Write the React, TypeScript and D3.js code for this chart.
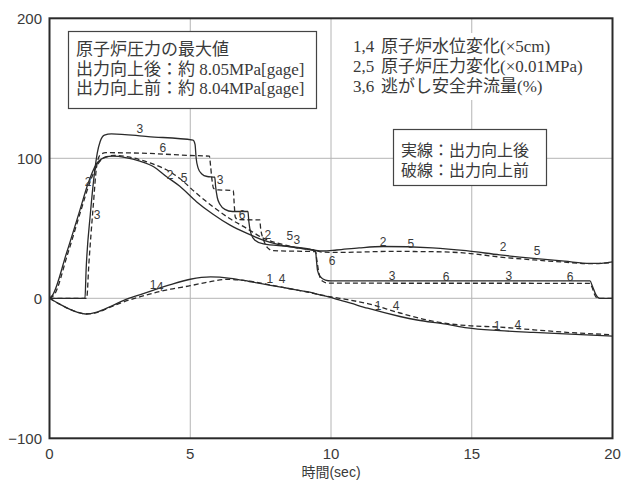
import React from "react";
import * as d3 from "d3";

// Time axis (sec) and value axis ticks
const xTicks = [0, 5, 10, 15, 20];
const yTicks = [-100, 0, 100, 200];
const xGrid = [5, 10, 15];
const yGrid = [0, 100];

// 1: reactor water level change (x5cm), after power uprate
const levelAfter: [number, number][] = [
  [0, 0], [0.3, -3.5], [0.63, -7], [1.0, -10], [1.28, -11.2], [1.69, -9.8], [2.2, -5.5],
  [2.64, -1.5], [3.2, 2.5], [3.7, 5.9], [4.3, 9.8], [5.0, 13.6], [5.72, 15.3], [6.43, 14.3],
  [7.1, 12], [7.85, 9.3], [8.5, 7], [9.15, 4.7], [9.6, 2.5], [10.1, 0], [10.7, -3.5],
  [11.3, -7.1], [12.45, -13], [13.06, -15.5], [14.1, -18.5], [14.84, -21.2], [16, -23.1],
  [17.2, -24.4], [18.5, -25.6], [20, -27],
];
// 4: reactor water level change, before power uprate
const levelBefore: [number, number][] = [
  [0, 0], [0.3, -3.5], [0.63, -7], [1.0, -10], [1.3, -11.2], [1.7, -10], [2.2, -6],
  [2.64, -2.5], [3.2, 1], [3.7, 3.8], [4.3, 6.5], [5.0, 9], [5.6, 11.5], [6.31, 13.5],
  [6.9, 12.8], [7.85, 9.5], [8.5, 7], [9.15, 4.5], [10, 1], [10.6, -1], [11.3, -3.8],
  [12.45, -10.5], [13.3, -15], [14.1, -18], [14.84, -19.5], [16, -20.6], [17.2, -22.5],
  [18.5, -24.5], [20, -26],
];
// 2: reactor pressure change (x0.01MPa), after power uprate
const pressureAfter: [number, number][] = [
  [0, 0], [0.1, 2], [0.6, 32], [1.08, 63], [1.37, 82], [1.67, 96], [1.95, 100.5],
  [2.26, 101.5], [2.7, 100.5], [3.21, 98], [3.7, 94], [4.15, 87], [4.63, 80], [5.22, 69],
  [5.81, 60], [6.4, 52.4], [7.0, 46.5], [7.59, 41.6], [8.18, 38.2], [8.8, 36], [9.37, 34.5],
  [9.7, 33.8], [10.2, 34.5], [11, 36], [11.85, 37], [13.6, 36], [14.8, 34], [16, 31],
  [17.2, 28.5], [18.3, 26.5], [19.2, 25], [19.6, 25], [20, 26],
];
// 5: reactor pressure change, before power uprate
const pressureBefore: [number, number][] = [
  [0, 0], [0.15, 2], [0.65, 32], [1.12, 63], [1.42, 82], [1.72, 96], [2.0, 101], [2.3, 102],
  [2.8, 101], [3.3, 98.5], [3.8, 95], [4.39, 89], [4.63, 85.5], [5.22, 75], [5.81, 65.4],
  [6.4, 57], [7.0, 50], [7.59, 43], [8.18, 39], [8.8, 36], [9.37, 34.5], [9.7, 33],
  [10.2, 32.8], [11, 33], [12, 33.5], [13.6, 33.3], [14.8, 32.3], [16, 29.5], [17.2, 27.4],
  [18.3, 25.8], [19.2, 24.7], [20, 25.5],
];
// 3: relief safety valve flow (%), after power uprate
const srvAfter: [number, number][] = [
  [0, 0], [1.26, 0], [1.3, 20], [1.45, 60], [1.6, 90], [1.7, 104], [1.8, 112], [1.95, 116.5],
  [2.2, 117.5], [3.5, 115.5], [5.1, 113], [5.17, 110], [5.21, 100], [5.28, 93], [5.4, 89],
  [5.6, 87], [5.87, 86.5], [5.9, 80], [5.96, 72], [6.06, 67], [6.23, 63.5], [6.5, 62],
  [7.05, 62], [7.08, 55], [7.16, 46], [7.3, 41.5], [7.6, 38.8], [8.5, 37], [9.45, 34],
  [9.48, 28], [9.52, 20], [9.62, 15.5], [9.8, 13], [10, 12.4], [19.2, 12.4], [19.28, 9],
  [19.4, 3], [19.55, 0], [20, 0],
];
// 6: relief safety valve flow (%), before power uprate
const srvBefore: [number, number][] = [
  [0, 0], [1.32, 0], [1.4, 25], [1.55, 65], [1.68, 95], [1.8, 102.5], [2.0, 104], [3.5, 103.5],
  [5.0, 102], [5.68, 101.5], [5.72, 95], [5.77, 85], [5.83, 78.5], [6.0, 77.4], [6.53, 77],
  [6.56, 68], [6.6, 58], [6.7, 56.2], [7.47, 56], [7.5, 50], [7.6, 42], [7.75, 36],
  [7.95, 34], [9.45, 33.3], [9.5, 27], [9.57, 18], [9.68, 12.5], [9.9, 10.8], [19.2, 10.7],
  [19.27, 8], [19.38, 2], [19.48, 0], [20, 0],
];

// Curve number labels placed along the traces: [time, value, text]
const curveLabels: [number, number, string][] = [
  [3.21, 120.9, "3"], [4.03, 107.4, "6"], [4.28, 88, "2"], [4.78, 86, "5"],
  [1.37, 83, "2"], [1.69, 59.5, "3"], [6.06, 84.5, "3"], [6.84, 59.5, "6"],
  [7.76, 45, "2"], [8.54, 44.5, "5"], [8.79, 41.6, "3"], [10.04, 26.6, "6"],
  [11.85, 40.2, "2"], [12.84, 38.8, "5"], [16.11, 36.6, "2"], [17.32, 33.8, "5"],
  [12.17, 15.9, "3"], [14.09, 15.2, "6"], [16.32, 15.9, "3"], [18.49, 15.2, "6"],
  [11.67, -5.5, "1"], [12.31, -5.5, "4"], [15.9, -19.8, "1"], [16.64, -19, "4"],
  [3.68, 9.5, "1"], [3.93, 8, "4"], [7.83, 13.8, "1"], [8.26, 13.8, "4"],
];

const maxBoxLines = [
  "原子炉圧力の最大値",
  "出力向上後：約 8.05MPa[gage]",
  "出力向上前：約 8.04MPa[gage]",
];
const legendRows: [string, string][] = [
  ["1,4", "原子炉水位変化(×5cm)"],
  ["2,5", "原子炉圧力変化(×0.01MPa)"],
  ["3,6", "逃がし安全弁流量(%)"],
];
const styleRows = ["実線：出力向上後", "破線：出力向上前"];
const xTitle = "時間(sec)";

const W = 632;
const H = 483;
const M = { left: 49.5, right: 19.5, top: 18.3, bottom: 44.7 };

const x = d3.scaleLinear().domain([0, 20]).range([M.left, W - M.right]);
const y = d3.scaleLinear().domain([-100, 200]).range([H - M.bottom, M.top]);

const line = d3
  .line<[number, number]>()
  .x((d) => x(d[0]))
  .y((d) => y(d[1]))
  .curve(d3.curveMonotoneX);

const series: { data: [number, number][]; dashed: boolean }[] = [
  { data: levelBefore, dashed: true },
  { data: pressureBefore, dashed: true },
  { data: srvBefore, dashed: true },
  { data: levelAfter, dashed: false },
  { data: pressureAfter, dashed: false },
  { data: srvAfter, dashed: false },
];

const boxFont = '"Liberation Serif", "Noto Sans CJK JP", serif';
const tickFont = '"Liberation Sans", Arial, sans-serif';
const ink = "#2a2a2a";
const textInk = "#3a3a3a";

export default function App() {
  const x0 = x(0);
  const x1 = x(20);
  const yTop = y(200);
  const yBot = y(-100);
  return (
    <svg
      width={W}
      height={H}
      style={{ position: "absolute", left: 0, top: 0, background: "#fff" }}
    >
      <rect x={0} y={0} width={W} height={H} fill="#fff" />
      {/* grid */}
      {xGrid.map((t) => (
        <line key={"gx" + t} x1={x(t)} x2={x(t)} y1={yTop} y2={yBot} stroke="#b4b4b4" strokeWidth={1} />
      ))}
      {yGrid.map((v) => (
        <line key={"gy" + v} x1={x0} x2={x1} y1={y(v)} y2={y(v)} stroke="#b4b4b4" strokeWidth={1} />
      ))}

      {/* annotation boxes */}
      <rect x={68.5} y={31.5} width={248} height={77} fill="#fff" stroke="#444" strokeWidth={1.2} />
      {maxBoxLines.map((s, i) => (
        <text key={"mb" + i} x={76} y={55 + i * 19.5} fontFamily={boxFont} fontSize={17} fill={textInk}>
          {s}
        </text>
      ))}
      <rect x={345} y={33} width={255} height={67} fill="#fff" />
      {legendRows.map(([k, s], i) => (
        <text key={"lg" + i} y={52 + i * 20} fontFamily={boxFont} fontSize={17} fill={textInk}>
          <tspan x={353}>{k}</tspan>
          <tspan x={381}>{s}</tspan>
        </text>
      ))}
      <rect x={393.5} y={129.5} width={153} height={56} fill="#fff" stroke="#444" strokeWidth={1.2} />
      {styleRows.map((s, i) => (
        <text key={"sr" + i} x={401} y={156 + i * 20} fontFamily={boxFont} fontSize={16} fill={textInk}>
          {s}
        </text>
      ))}

      {/* traces */}
      {series.map((s, i) => (
        <path
          key={"s" + i}
          d={line(s.data) || ""}
          fill="none"
          stroke={ink}
          strokeWidth={1.3}
          strokeDasharray={s.dashed ? "5,3" : undefined}
        />
      ))}
      {curveLabels.map(([t, v, s], i) => (
        <text
          key={"cl" + i}
          x={x(t)}
          y={y(v)}
          fontFamily={tickFont}
          fontSize={12}
          fill={textInk}
          textAnchor="middle"
          dominantBaseline="central"
        >
          {s}
        </text>
      ))}

      {/* frame */}
      <rect x={x0} y={yTop} width={x1 - x0} height={yBot - yTop} fill="none" stroke={ink} strokeWidth={2} />

      {/* tick labels */}
      {yTicks.map((v) => (
        <text
          key={"yt" + v}
          x={42}
          y={y(v)}
          textAnchor="end"
          dominantBaseline="central"
          fontFamily={tickFont}
          fontSize={15}
          fill={textInk}
        >
          {v < 0 ? "−" + Math.abs(v) : v}
        </text>
      ))}
      {xTicks.map((t) => (
        <text
          key={"xt" + t}
          x={x(t)}
          y={453}
          textAnchor="middle"
          dominantBaseline="central"
          fontFamily={tickFont}
          fontSize={15}
          fill={textInk}
        >
          {t}
        </text>
      ))}
      <text
        x={(x0 + x1) / 2}
        y={472}
        textAnchor="middle"
        dominantBaseline="central"
        fontFamily={'"Liberation Sans", "Noto Sans CJK JP", sans-serif'}
        fontSize={14}
        fill={textInk}
      >
        {xTitle}
      </text>
    </svg>
  );
}
